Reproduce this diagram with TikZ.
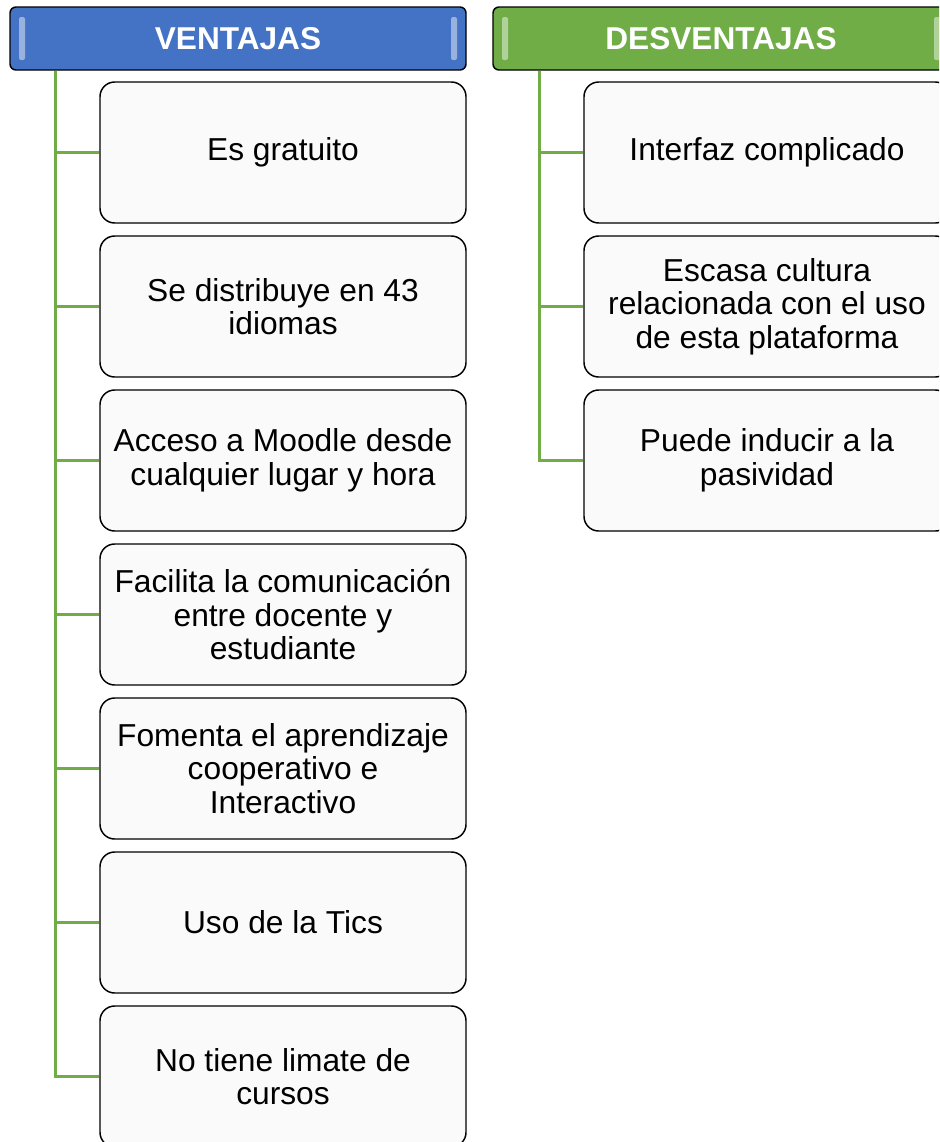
\documentclass[tikz,border=0pt]{standalone}
\usepackage{fontspec}
\setmainfont{Liberation Sans}
\usepackage{xcolor}
\usepackage{tikz}
\usetikzlibrary{positioning}
\definecolor{colorB}{RGB}{68,114,196}
\definecolor{colorG}{RGB}{112,173,71}
\definecolor{colorF}{RGB}{250,250,250}
\tikzstyle{head}=[draw=black, line width=1.1pt, rounded corners=4.5pt, minimum width=342pt, minimum height=47.25pt, text=white, font=\fontsize{23.7}{26}\selectfont\bfseries]
\tikzstyle{item}=[draw=black, line width=1.1pt, rounded corners=11pt, fill=colorF, minimum width=274.5pt, minimum height=105.75pt, align=center, font=\fontsize{23.8}{25.2}\selectfont]
\tikzstyle{branch}=[draw=colorG, line width=2pt]
\tikzstyle{gloss}=[fill=white, opacity=0.45, rounded corners=1.5pt]

\begin{document}
\begin{tikzpicture}[x=0.75pt,y=-0.75pt,node distance=8.65pt]
\clip (0,0) rectangle (939,1142);

% ventajas
\node (ventajas) [head,fill=colorB] at (238,38.5) {VENTAJAS};
\node (v1) [item] at (283,152.5) {Es gratuito};
\node (v2) [item,below=of v1] {Se distribuye en 43\\idiomas};
\node (v3) [item,below=of v2] {Acceso a Moodle desde\\cualquier lugar y hora};
\node (v4) [item,below=of v3] {Facilita la comunicación\\entre docente y\\estudiante};
\node (v5) [item,below=of v4] {Fomenta el aprendizaje\\cooperativo e\\Interactivo};
\node (v6) [item,below=of v5] {Uso de la Tics};
\node (v7) [item,below=of v6] {No tiene limate de\\cursos};
\foreach \i in {1,...,7}
  \draw [branch] ([xshift=34.5pt]ventajas.south west) |- (v\i.west);

% desventajas
\node (desventajas) [head,fill=colorG] at (721,38.5) {DESVENTAJAS};
\node (d1) [item] at (767,152.5) {Interfaz complicado};
\node (d2) [item,below=of d1] {Escasa cultura\\relacionada con el uso\\de esta plataforma};
\node (d3) [item,below=of d2] {Puede inducir a la\\pasividad};
\foreach \i in {1,...,3}
  \draw [branch] ([xshift=35.25pt]desventajas.south west) |- (d\i.west);

% brillo de los titulos
\fill [gloss] (19,17) rectangle (25,60);
\fill [gloss] (451,17) rectangle (457,60);
\fill [gloss] (502,17) rectangle (508,60);
\fill [gloss] (934,17) rectangle (940,60);

\end{tikzpicture}
\end{document}
